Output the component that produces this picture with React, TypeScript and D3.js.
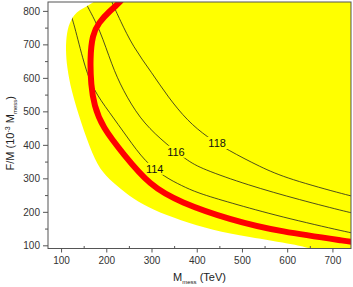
import * as React from "react";
import * as d3 from "d3";

// axis ranges and ticks
const xDomain = [70, 740];
const yDomain = [92, 828];
const xTicks = [100, 200, 300, 400, 500, 600, 700];
const xMinor = [150, 250, 350, 450, 550, 650];
const yTicks = [100, 200, 300, 400, 500, 600, 700, 800];
const yMinor = [150, 250, 350, 450, 550, 650, 750];

// edge of the allowed (yellow) region, [M_mess, F/M]
const yellowEdge: [number, number][] = [
  [205, 880], [178, 828], [136, 804], [120, 775], [111, 736], [109, 685],
  [112, 634], [121, 566], [143, 467], [169, 370], [190, 318], [222, 279],
  [258, 240], [302, 207], [362, 176], [435, 146], [510, 127], [621, 103],
  [660, 88], [720, 60],
];

// red band
const redBand: [number, number][] = [
  [245, 860], [231, 828], [205, 800], [182, 766], [168, 730], [163, 660],
  [165, 580], [172, 520], [190, 455], [236, 375], [295, 280], [362, 230],
  [472, 178], [583, 142], [742, 112], [760, 108],
];

// contours of m_h
const contour114: [number, number][] = [
  [118, 800], [127, 766], [150, 640], [170, 566], [205, 500], [245, 425],
  [285, 350], [329, 305], [365, 280], [400, 258], [472, 229], [583, 187],
  [738, 139], [760, 134],
];
const contour116: [number, number][] = [
  [150, 835], [158, 813], [185, 745], [211, 640], [235, 566], [273, 480],
  [317, 420], [377, 355], [410, 330], [510, 282], [627, 237], [738, 199],
  [760, 193],
];
const contour118: [number, number][] = [
  [208, 840], [211, 828], [229, 775], [258, 694], [300, 616], [335, 545],
  [379, 472], [422, 425], [466, 387], [540, 335], [600, 300], [738, 249],
  [760, 243],
];
const contourLabels = [
  { text: "114", x: 306, y: 330 },
  { text: "116", x: 353, y: 381 },
  { text: "118", x: 444, y: 407 },
];

const W = 353;
const H = 287;
const margin = { left: 48, right: 2, top: 2, bottom: 38.5 };
const font = "'Liberation Sans', Arial, sans-serif";
const axisColor = "#555";

const App: React.FC = () => {
  const x = d3.scaleLinear().domain(xDomain).range([margin.left, W - margin.right]);
  const y = d3.scaleLinear().domain(yDomain).range([H - margin.bottom, margin.top]);
  const curve = d3
    .line<[number, number]>()
    .x(d => x(d[0]))
    .y(d => y(d[1]))
    .curve(d3.curveBasis);

  const x0 = margin.left;
  const x1 = W - margin.right;
  const y0 = H - margin.bottom;
  const y1 = margin.top;

  const yellowPath =
    curve(yellowEdge) + `L${x(800)},${y(60)}L${x(800)},${y(880)}Z`;

  return (
    <div style={{ position: "fixed", left: 0, top: 0 }}>
      <svg width={W} height={H} style={{ display: "block", fontFamily: font }}>
        <defs>
          <clipPath id="plot">
            <rect x={x0} y={y1} width={x1 - x0} height={y0 - y1} />
          </clipPath>
          <clipPath id="region">
            <path d={yellowPath} />
          </clipPath>
        </defs>
        <rect width={W} height={H} fill="#fff" />
        <g clipPath="url(#plot)">
          <path d={yellowPath} fill="#ffff00" />
          <g clipPath="url(#region)" fill="none" stroke="#222" strokeWidth={0.8}>
            <path d={curve(contour114) || ""} />
            <path d={curve(contour116) || ""} />
            <path d={curve(contour118) || ""} />
          </g>
          {contourLabels.map(l => (
            <g key={l.text}>
              <rect x={x(l.x) - 11} y={y(l.y) - 6} width={22} height={12} fill="#ffff00" />
              <text
                x={x(l.x)}
                y={y(l.y)}
                dy="0.36em"
                textAnchor="middle"
                fontSize={11}
                fill="#111"
              >
                {l.text}
              </text>
            </g>
          ))}
          <path d={curve(redBand) || ""} fill="none" stroke="#ff0000" strokeWidth={6} />
        </g>

        {/* frame */}
        <rect x={x0} y={y1} width={x1 - x0} height={y0 - y1} fill="none" stroke={axisColor} strokeWidth={1} />

        {/* x axis */}
        {xTicks.map(t => (
          <g key={"xt" + t}>
            <line x1={x(t)} x2={x(t)} y1={y0} y2={y0 + 4} stroke={axisColor} />
            <text x={x(t)} y={y0 + 15} textAnchor="middle" fontSize={10} fill="#333">
              {t}
            </text>
          </g>
        ))}
        {xMinor.map(t => (
          <line key={"xm" + t} x1={x(t)} x2={x(t)} y1={y0} y2={y0 - 2.5} stroke={axisColor} />
        ))}

        {/* y axis */}
        {yTicks.map(t => (
          <g key={"yt" + t}>
            <line x1={x0} x2={x0 - 5} y1={y(t)} y2={y(t)} stroke={axisColor} />
            <text x={x0 - 8} y={y(t)} dy="0.35em" textAnchor="end" fontSize={10} fill="#333">
              {t}
            </text>
          </g>
        ))}
        {yMinor.map(t => (
          <line key={"ym" + t} x1={x0} x2={x0 - 3} y1={y(t)} y2={y(t)} stroke={axisColor} />
        ))}

        {/* axis titles */}
        <text x={(x0 + x1) / 2} y={281} textAnchor="middle" fontSize={11} fill="#222">
          M
          <tspan fontSize={6} dy={3}>mess</tspan>
          <tspan dy={-3}> (TeV)</tspan>
        </text>
        <text
          transform={`translate(14,${(y0 + y1) / 2 + 8}) rotate(-90)`}
          textAnchor="middle"
          fontSize={11}
          fill="#222"
        >
          F/M (10
          <tspan fontSize={7} dy={-4}>-3</tspan>
          <tspan dy={4}> M</tspan>
          <tspan fontSize={6} dy={3}>mess</tspan>
          <tspan dy={-3}>)</tspan>
        </text>
      </svg>
    </div>
  );
};

export default App;
